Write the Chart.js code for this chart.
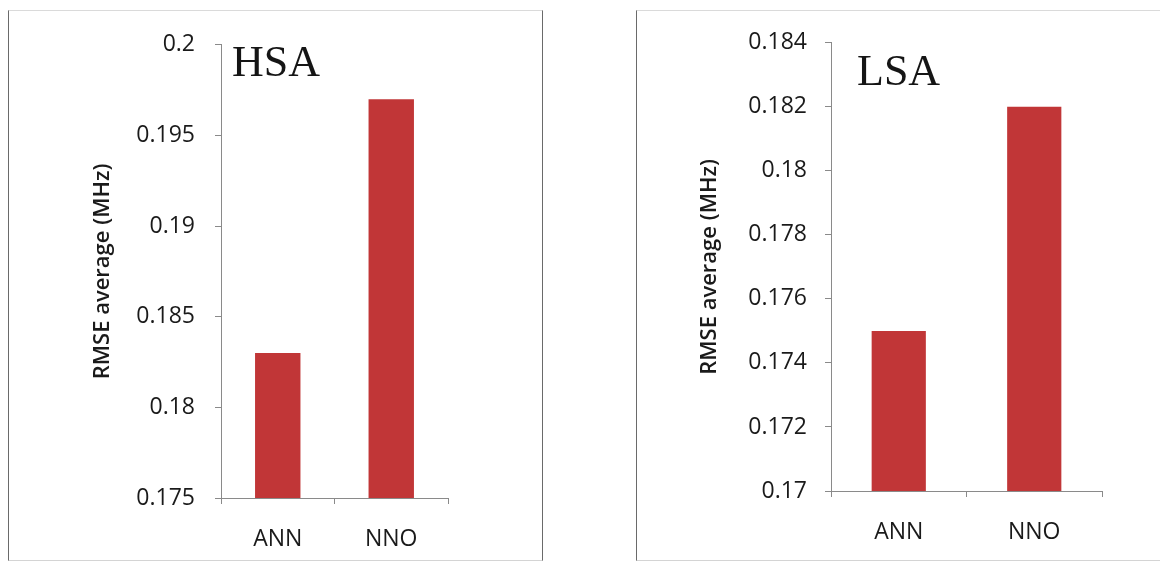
<!DOCTYPE html>
<html>
<head>
<meta charset="utf-8">
<title>RMSE average: ANN vs NNO</title>
<script src="https://cdn.jsdelivr.net/npm/chart.js@4.4.1/dist/chart.umd.min.js"></script>
<style>
  html, body { margin: 0; padding: 0; background: #fff; }
  body { width: 1160px; height: 562px; position: relative; overflow: hidden; }
  .panel {
    position: absolute;
    box-sizing: border-box;
    border-left: 1px solid #6a6a6a;
    border-right: 1px solid #6a6a6a;
    border-top: 1px solid #dadada;
    border-bottom: 1px solid #d4d4d4;
  }
  #panelHSA { left: 8px; top: 10px; width: 535px; height: 551px; }
  #panelLSA { left: 636px; top: 10px; width: 600px; height: 551px; }
  canvas { display: block; }
</style>
</head>
<body>
<div class="panel" id="panelHSA"><canvas id="chartHSA" width="533" height="548"></canvas></div>
<div class="panel" id="panelLSA"><canvas id="chartLSA" width="523" height="548"></canvas></div>

<script>
// Methods compared in both panels
const methods = ['ANN', 'NNO'];

// Average RMSE (MHz) per method
const hsaRmse = [0.183, 0.197];
const lsaRmse = [0.175, 0.182];

// Value-axis ticks for each panel
const hsaTicks = [0.175, 0.18, 0.185, 0.19, 0.195, 0.2];
const hsaTickLabels = ['0.175', '0.18', '0.185', '0.19', '0.195', '0.2'];
const lsaTicks = [0.17, 0.172, 0.174, 0.176, 0.178, 0.18, 0.182, 0.184];
const lsaTickLabels = ['0.17', '0.172', '0.174', '0.176', '0.178', '0.18', '0.182', '0.184'];

const panelNames = ['HSA', 'LSA'];
const yTitle = 'RMSE average (MHz)';

const BAR_RED = '#c13637';
const AXIS_GREY = '#8a8a8a';
const TEXT = '#1a1a1a';
const SANS = '"Open Sans", "Noto Sans", sans-serif';

// Large serif label written in the upper-left corner of the plot area
const panelLabel = {
  id: 'panelLabel',
  afterDraw(chart, args, opts) {
    const { ctx, chartArea } = chart;
    ctx.save();
    ctx.font = opts.font;
    ctx.fillStyle = opts.color;
    ctx.textAlign = 'left';
    ctx.textBaseline = 'alphabetic';
    ctx.fillText(opts.text, chartArea.left + opts.dx, chartArea.top + opts.dy);
    ctx.restore();
  }
};

function makeChart(canvasId, name, values, ticks, tickLabels, geom) {
  return new Chart(document.getElementById(canvasId), {
    type: 'bar',
    data: {
      labels: methods,
      datasets: [{
        label: name,
        data: values,
        backgroundColor: BAR_RED,
        borderWidth: 0,
        barPercentage: 0.4,
        categoryPercentage: 1.0
      }]
    },
    options: {
      responsive: false,
      animation: false,
      events: [],
      layout: { padding: { left: 0, top: geom.top, right: geom.right, bottom: 0 } },
      plugins: {
        legend: { display: false },
        tooltip: { enabled: false },
        title: { display: false },
        panelLabel: {
          text: name,
          dx: geom.labelDx,
          dy: geom.labelDy,
          font: '44px "Liberation Serif", "DejaVu Serif", serif',
          color: '#151515'
        }
      },
      scales: {
        x: {
          grid: { display: true, offset: true, drawOnChartArea: false, drawTicks: true, tickLength: 6, color: AXIS_GREY },
          border: { display: true, color: AXIS_GREY, width: 1 },
          ticks: { color: TEXT, font: { family: SANS, size: 23 }, padding: 22, maxRotation: 0 },
          afterFit(scale) { scale.height = geom.xHeight; }
        },
        y: {
          min: ticks[0],
          max: ticks[ticks.length - 1],
          afterBuildTicks(scale) { scale.ticks = ticks.map(v => ({ value: v })); },
          grid: { display: true, drawOnChartArea: false, drawTicks: true, tickLength: 6, color: AXIS_GREY },
          border: { display: true, color: AXIS_GREY, width: 1 },
          ticks: {
            color: TEXT,
            font: { family: SANS, size: 23 },
            padding: geom.tickPad,
            callback: (value, index) => tickLabels[index]
          },
          title: {
            display: true,
            text: yTitle,
            color: TEXT,
            font: { family: SANS, size: 22, weight: '600' },
            padding: { top: geom.titlePad, bottom: 0 }
          },
          afterFit(scale) { scale.width = geom.yWidth; }
        }
      }
    },
    plugins: [panelLabel]
  });
}

makeChart('chartHSA', panelNames[0], hsaRmse, hsaTicks, hsaTickLabels, {
  top: 31, right: 94, yWidth: 212, xHeight: 61, tickPad: 20, titlePad: 81, labelDx: 11, labelDy: 31
});
makeChart('chartLSA', panelNames[1], lsaRmse, lsaTicks, lsaTickLabels, {
  top: 21, right: 58, yWidth: 194, xHeight: 68, tickPad: 18, titlePad: 60, labelDx: 26, labelDy: 42
});
</script>
</body>
</html>
